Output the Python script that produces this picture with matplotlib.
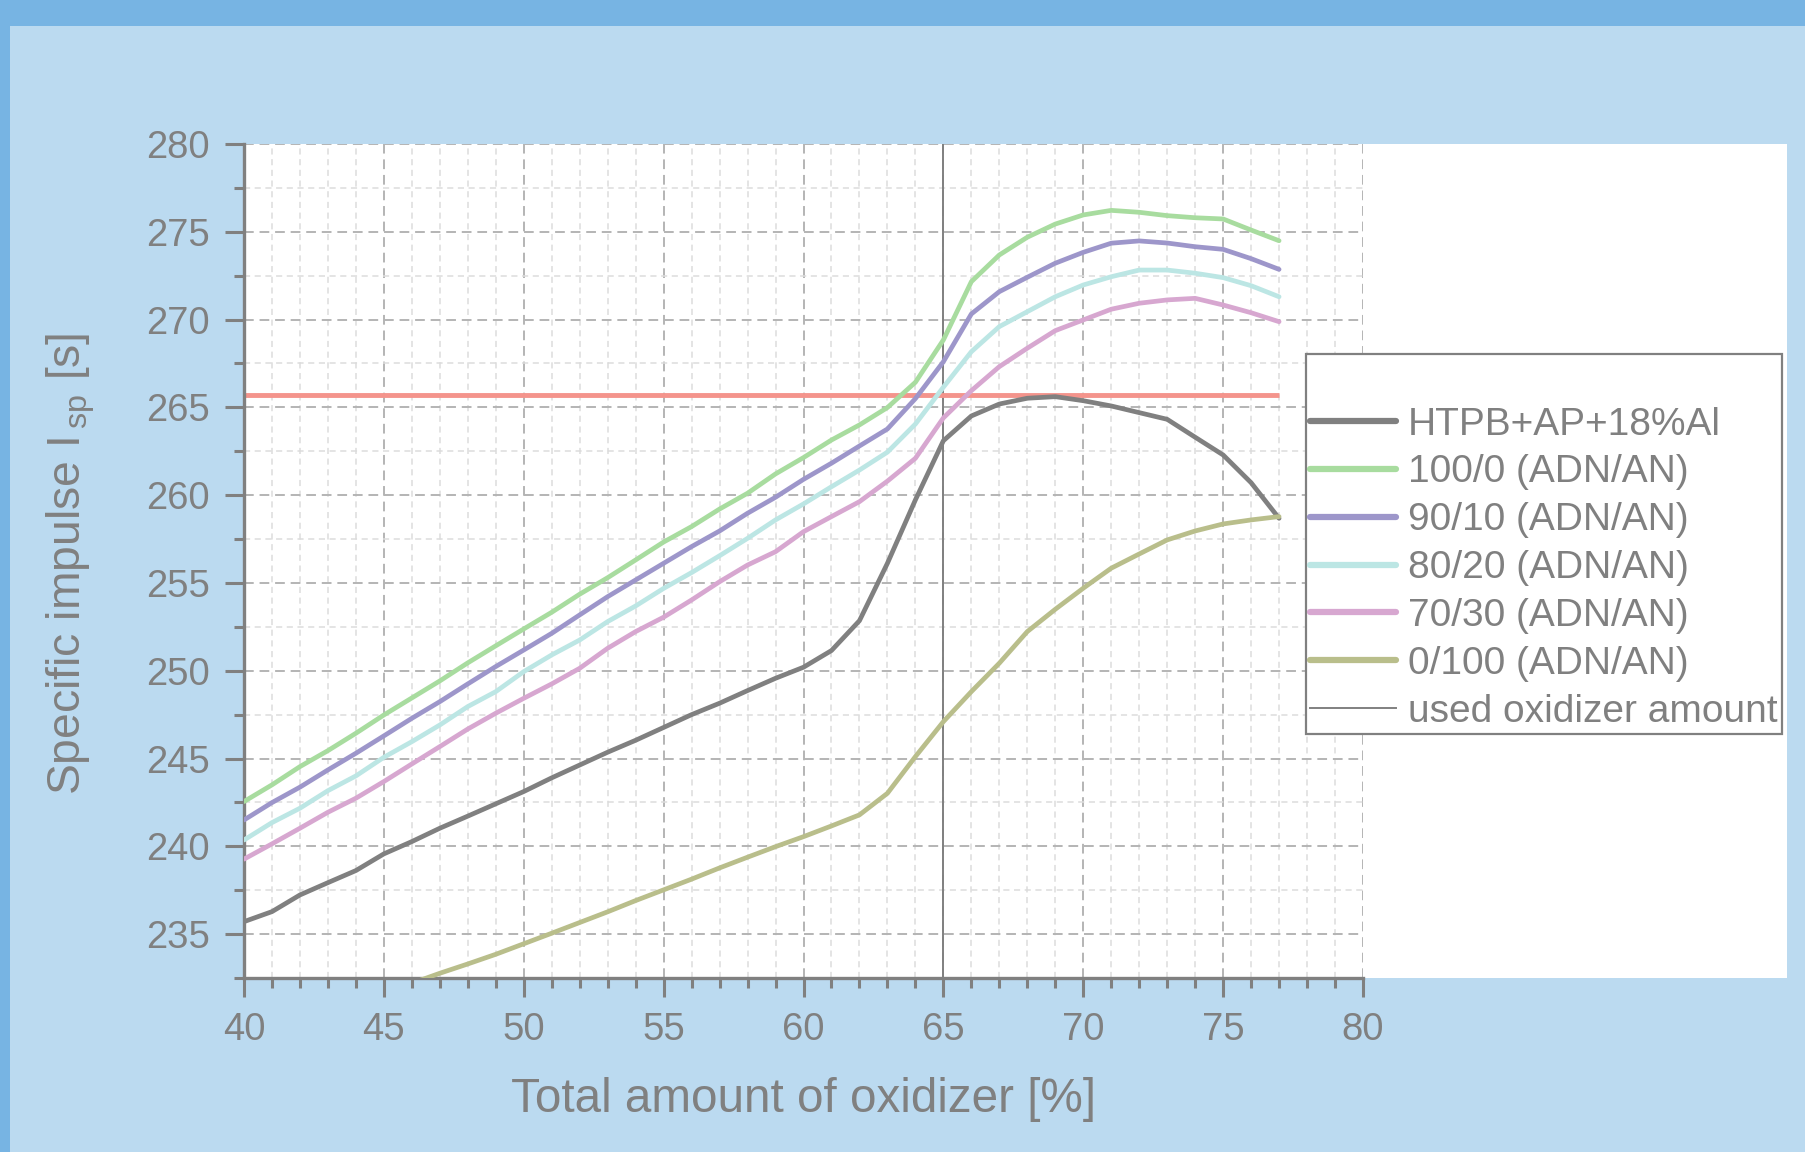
import matplotlib
matplotlib.use("Agg")
import matplotlib.pyplot as plt
from matplotlib.patches import Rectangle
from matplotlib.lines import Line2D
from matplotlib.ticker import MultipleLocator

# ---------------- data ----------------
oxidizer = list(range(40, 78))

htpb_ap_al = [235.71, 236.28, 237.23, 237.93, 238.62, 239.57, 240.27, 241.03, 241.72, 242.42,
              243.12, 243.90, 244.63, 245.36, 246.04, 246.77, 247.50, 248.15, 248.87, 249.57,
              250.20, 251.15, 252.85, 256.12, 259.73, 263.10, 264.51, 265.19, 265.52, 265.61,
              265.38, 265.08, 264.70, 264.32, 263.30, 262.29, 260.71, 258.68]
adn_100_0 = [242.55, 243.50, 244.54, 245.45, 246.44, 247.48, 248.45, 249.42, 250.45, 251.42,
             252.38, 253.33, 254.36, 255.30, 256.31, 257.33, 258.21, 259.21, 260.11, 261.21,
             262.14, 263.14, 264.00, 264.99, 266.43, 268.84, 272.16, 273.68, 274.69, 275.44,
             275.96, 276.22, 276.11, 275.92, 275.80, 275.73, 275.10, 274.49]
adn_90_10 = [241.50, 242.49, 243.37, 244.35, 245.30, 246.29, 247.29, 248.24, 249.25, 250.24,
             251.18, 252.13, 253.18, 254.22, 255.17, 256.12, 257.07, 257.96, 258.97, 259.88,
             260.90, 261.82, 262.80, 263.77, 265.50, 267.60, 270.32, 271.59, 272.41, 273.21,
             273.83, 274.35, 274.48, 274.36, 274.15, 274.00, 273.47, 272.86]
adn_80_20 = [240.36, 241.35, 242.17, 243.17, 244.01, 245.07, 245.96, 246.91, 247.96, 248.81,
             249.95, 250.90, 251.75, 252.80, 253.69, 254.69, 255.59, 256.55, 257.54, 258.59,
             259.50, 260.48, 261.43, 262.45, 264.05, 266.15, 268.17, 269.60, 270.45, 271.30,
             271.97, 272.44, 272.82, 272.82, 272.64, 272.39, 271.93, 271.30]
adn_70_30 = [239.27, 240.14, 241.03, 241.94, 242.74, 243.69, 244.69, 245.68, 246.68, 247.58,
             248.43, 249.25, 250.14, 251.28, 252.23, 253.05, 254.03, 255.07, 256.02, 256.78,
             257.92, 258.78, 259.63, 260.80, 262.10, 264.40, 265.95, 267.32, 268.37, 269.37,
             269.98, 270.59, 270.93, 271.12, 271.21, 270.83, 270.39, 269.88]
adn_0_100 = [228.80, 229.40, 229.90, 230.60, 231.10, 231.70, 232.20, 232.77, 233.30, 233.85,
             234.45, 235.05, 235.66, 236.27, 236.91, 237.52, 238.13, 238.77, 239.38, 239.98,
             240.55, 241.16, 241.79, 243.02, 245.11, 247.10, 248.81, 250.43, 252.23, 253.50,
             254.70, 255.84, 256.65, 257.45, 257.96, 258.36, 258.59, 258.78]

reference_isp = 265.7
reference_range = [40, 77]
used_oxidizer = 65

series_labels = ["HTPB+AP+18%Al", "100/0 (ADN/AN)", "90/10 (ADN/AN)", "80/20 (ADN/AN)",
                 "70/30 (ADN/AN)", "0/100 (ADN/AN)"]
series_values = [htpb_ap_al, adn_100_0, adn_90_10, adn_80_20, adn_70_30, adn_0_100]
series_colors = ["#808080", "#a8dc9f", "#9d96ca", "#bce6e4", "#d7a7d0", "#b9be8b"]
used_label = "used oxidizer amount"

x_label = "Total amount of oxidizer [%]"
y_label = r"Specific impulse I$\,_{\mathrm{sp}}$ [s]"

# ---------------- style ----------------
GRAY = "#808080"
LIGHT_BLUE = "#bbdaf0"
DARK_BLUE = "#77b4e3"
plt.rcParams["font.family"] = ["Liberation Sans", "DejaVu Sans"]
plt.rcParams["mathtext.fontset"] = "custom"
plt.rcParams["mathtext.rm"] = "Liberation Sans"
plt.rcParams["mathtext.it"] = "Liberation Sans:italic"

W, H = 1805, 1152
fig = plt.figure(figsize=(W / 100, H / 100), dpi=100, facecolor=LIGHT_BLUE)

# frame bands (top and left)
fig.add_artist(Rectangle((0, 1 - 26 / H), 1, 26 / H, transform=fig.transFigure,
                         facecolor=DARK_BLUE, edgecolor="none", zorder=-5))
fig.add_artist(Rectangle((0, 0), 10 / W, 1, transform=fig.transFigure,
                         facecolor=DARK_BLUE, edgecolor="none", zorder=-5))

ax_left, ax_right = 244 / W, 1363 / W
ax_top, ax_bottom = 1 - 144 / H, 1 - 978 / H
# white plotting panel extending to the right
fig.add_artist(Rectangle((ax_left, ax_bottom), (1787 - 244) / W, ax_top - ax_bottom,
                         transform=fig.transFigure, facecolor="white", edgecolor="none",
                         zorder=-4))

ax = fig.add_axes([ax_left, ax_bottom, ax_right - ax_left, ax_top - ax_bottom])
ax.set_facecolor("none")

ax.set_xlim(40, 80)
ax.set_ylim(232.5, 280)
ax.xaxis.set_major_locator(MultipleLocator(5))
ax.xaxis.set_minor_locator(MultipleLocator(1))
ax.yaxis.set_major_locator(MultipleLocator(5))
ax.yaxis.set_minor_locator(MultipleLocator(2.5))

ax.grid(which="major", color="#b4b4b4", linestyle=(0, (5, 3)), linewidth=1.4, zorder=0)
ax.grid(which="minor", color="#dcdcdc", linestyle=(0, (4, 3)), linewidth=1.1, zorder=0)
ax.set_axisbelow(True)

for s in ["top", "right"]:
    ax.spines[s].set_visible(False)
for s in ["left", "bottom"]:
    ax.spines[s].set_color(GRAY)
    ax.spines[s].set_linewidth(2.4)

ax.tick_params(which="major", direction="out", length=13.5, width=2.2, color=GRAY,
               labelcolor=GRAY, labelsize=27.5, pad=11)
ax.tick_params(which="minor", direction="out", length=7.5, width=2.2, color=GRAY)

# used oxidizer vertical line
ax.axvline(used_oxidizer, color=GRAY, linewidth=1.4, zorder=2)

handles = []
for vals, col, lab in zip(series_values, series_colors, series_labels):
    ln, = ax.plot(oxidizer, vals, color=col, linewidth=3.4, label=lab,
                  solid_joinstyle="round", solid_capstyle="round", zorder=3)
    handles.append(ln)

ax.hlines(reference_isp, reference_range[0], reference_range[1], color="#f4948c",
          linewidth=3.5, zorder=2.5)

ax.set_xlabel(x_label, fontsize=34.3, color=GRAY)
ax.set_ylabel(y_label, fontsize=33.3, color=GRAY)
ax.xaxis.set_label_coords(0.5, -0.119)
ax.yaxis.set_label_coords(-0.131, 0.497)

blank = Line2D([], [], color="none")
vline_handle = Line2D([], [], color=GRAY, linewidth=1.4)
leg = fig.legend([blank] + handles + [vline_handle], [" "] + series_labels + [used_label],
                 loc="upper left", bbox_to_anchor=(1305.7 / W, 1 - 354 / H),
                 bbox_transform=fig.transFigure, borderaxespad=0, borderpad=0.12,
                 fontsize=28, labelcolor=GRAY, frameon=True, fancybox=False,
                 framealpha=1, edgecolor=GRAY, facecolor="white",
                 handlelength=2.2, handletextpad=0.3, labelspacing=0.305)
leg.get_frame().set_linewidth(1.6)
for h in leg.legend_handles[1:-1]:
    h.set_linewidth(4.5)

fig.savefig("out.png", dpi=100, facecolor=LIGHT_BLUE)
